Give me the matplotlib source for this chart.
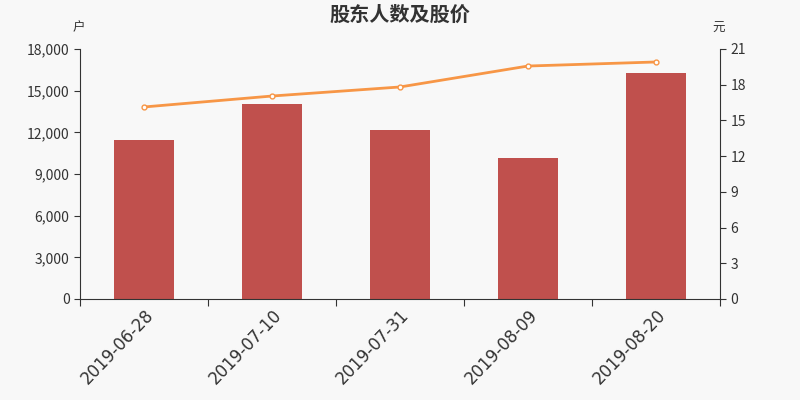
import matplotlib.pyplot as plt
from matplotlib.ticker import FuncFormatter

plt.rcParams['font.family'] = ['Noto Sans CJK SC', 'DejaVu Sans']

dates = ['2019-06-28', '2019-07-10', '2019-07-31', '2019-08-09', '2019-08-20']
holders = [11450, 14050, 12170, 10150, 16280]   # 户
price = [16.13, 17.05, 17.81, 19.57, 19.91]      # 元

bg = '#f8f8f8'
fig = plt.figure(figsize=(8, 4), dpi=100, facecolor=bg)
ax = fig.add_axes([0.1, 0.2525, 0.8, 0.625], facecolor=bg)
ax2 = ax.twinx()

x = list(range(len(dates)))
ax.bar(x, holders, width=0.47, color='#c0504d', zorder=2)
ax2.plot(x, price, color='#f79646', lw=2, marker='o', ms=3.5,
         mfc='white', mec='#f79646', mew=1, zorder=3)

ax.set_xlim(-0.5, len(dates) - 0.5)
ax.set_ylim(0, 18000)
ax.set_yticks(range(0, 18001, 3000))
ax.yaxis.set_major_formatter(FuncFormatter(lambda v, p: f'{int(v):,}'))
ax2.set_ylim(0, 21)
ax2.set_yticks(range(0, 22, 3))

ax.set_xticks([i - 0.5 for i in range(len(dates) + 1)], minor=False)
ax.set_xticklabels([])
ax.set_xticks(x, minor=True)
ax.set_xticklabels(dates, minor=True, rotation=46, ha='right',
                   rotation_mode='anchor', fontsize=12, color='#333333',
                   family='DejaVu Sans')
ax.tick_params(axis='x', which='minor', length=0, pad=5)
ax.tick_params(axis='x', which='major', length=5, color='#333333')

for a in (ax, ax2):
    for s in a.spines.values():
        s.set_visible(False)
    a.tick_params(axis='y', labelsize=10, colors='#333333', length=4)
ax.spines['left'].set_visible(True)
ax.spines['bottom'].set_visible(True)
ax2.spines['right'].set_visible(True)
for s in (ax.spines['left'], ax.spines['bottom'], ax2.spines['right']):
    s.set_color('#333333')

fig.text(0.5, 0.965, '股东人数及股价', ha='center', va='center',
         fontsize=14.5, fontweight='bold', color='#333333')
fig.text(0.098, 0.93, '户', ha='center', va='center', fontsize=9, color='#333333')
fig.text(0.898, 0.93, '元', ha='center', va='center', fontsize=9, color='#333333')

fig.savefig('out.png', facecolor=bg)
